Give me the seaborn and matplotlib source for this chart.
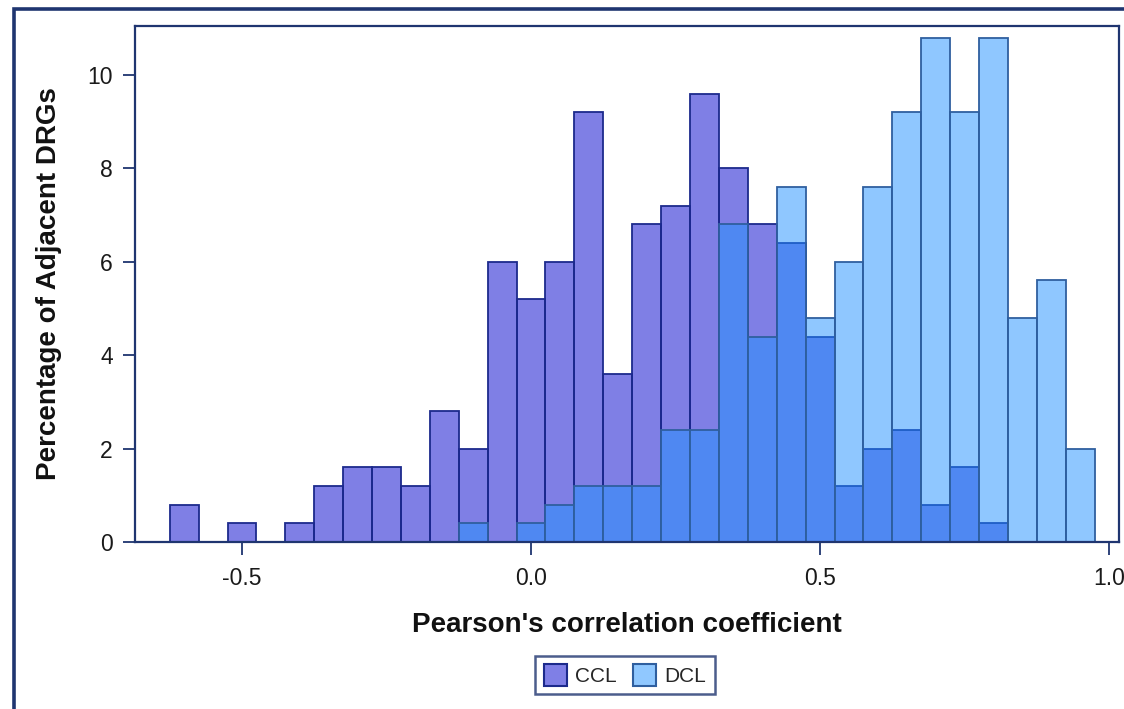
import numpy as np
import pandas as pd
import matplotlib
matplotlib.use("Agg")
import matplotlib.pyplot as plt
from matplotlib.patches import Patch, Rectangle
import seaborn as sns

# ---------------- data (percent of adjacent DRGs per 0.05 bin) ----------------
bin_centers = [-0.60, -0.55, -0.50, -0.45, -0.40, -0.35, -0.30, -0.25, -0.20,
               -0.15, -0.10, -0.05, 0.00, 0.05, 0.10, 0.15, 0.20, 0.25, 0.30,
               0.35, 0.40, 0.45, 0.50, 0.55, 0.60, 0.65, 0.70, 0.75, 0.80,
               0.85, 0.90, 0.95]
ccl_pct = [0.8, 0.0, 0.4, 0.0, 0.4, 1.2, 1.6, 1.6, 1.2,
           2.8, 2.0, 6.0, 5.2, 6.0, 9.2, 3.6, 6.8, 7.2, 9.6,
           8.0, 6.8, 6.4, 4.4, 1.2, 2.0, 2.4, 0.8, 1.6, 0.4,
           0.0, 0.0, 0.0]
dcl_pct = [0.0, 0.0, 0.0, 0.0, 0.0, 0.0, 0.0, 0.0, 0.0,
           0.0, 0.4, 0.0, 0.4, 0.8, 1.2, 1.2, 1.2, 2.4, 2.4,
           6.8, 4.4, 7.6, 4.8, 6.0, 7.6, 9.2, 10.8, 9.2, 10.8,
           4.8, 5.6, 2.0]
groups = ["CCL", "DCL"]
x_ticks = [-0.5, 0.0, 0.5, 1.0]
x_tick_labels = ["-0.5", "0.0", "0.5", "1.0"]
y_ticks = [0, 2, 4, 6, 8, 10]
x_label = "Pearson's correlation coefficient"
y_label = "Percentage of Adjacent DRGs"

# ---------------- styling ----------------
sns.set_style("white")
plt.rcParams["font.family"] = ["Liberation Sans", "DejaVu Sans"]

NAVY = "#1f3570"
fills = {"CCL": (0.0, 0.0, 205 / 255), "DCL": (33 / 255, 145 / 255, 1.0)}
edges = {"CCL": "#1c2a8c", "DCL": "#2f5f9f"}
legend_fill = {"CCL": "#7f7fe6", "DCL": "#90c8ff"}

df = pd.DataFrame({
    "center": bin_centers * 2,
    "pct": ccl_pct + dcl_pct,
    "group": ["CCL"] * len(bin_centers) + ["DCL"] * len(bin_centers),
})

fig = plt.figure(figsize=(11.24, 7.09), dpi=100)
ax = fig.add_axes([135 / 1124, 1 - 542 / 709, (1119 - 135) / 1124, (542 - 26) / 709])

bw = 0.05
brange = (min(bin_centers) - bw / 2, max(bin_centers) + bw / 2)
for g in groups:
    n_before = len(ax.patches)
    sns.histplot(data=df[df["group"] == g], x="center", weights="pct",
                 binwidth=bw, binrange=brange, stat="count",
                 color=fills[g], ax=ax, linewidth=1.3)
    for p in ax.patches[n_before:]:
        p.set_alpha(None)
        p.set_facecolor((*fills[g], 0.5))
        p.set_edgecolor(edges[g])
        p.set_linewidth(1.3)
        if p.get_height() == 0:
            p.set_visible(False)

ax.set_xlim(-0.685, 1.017)
ax.set_ylim(0, 11.05)
ax.set_xticks(x_ticks)
ax.set_xticklabels(x_tick_labels)
ax.set_yticks(y_ticks)
ax.tick_params(axis="both", direction="out", length=9, width=1.3, color=NAVY,
               labelsize=16.5, labelcolor="#1a1a1a", bottom=True, left=True)
ax.tick_params(axis="x", pad=9)
ax.tick_params(axis="y", pad=7)
for s in ax.spines.values():
    s.set_visible(True)
    s.set_color(NAVY)
    s.set_linewidth(1.6)
ax.set_xlabel(x_label, fontsize=20, fontweight="bold", labelpad=16, color="#111111")
ax.set_ylabel(y_label, fontsize=20, fontweight="bold", labelpad=18, color="#111111")
ax.grid(False)

handles = [Patch(facecolor=legend_fill[g], edgecolor=edges[g], linewidth=1.5, label=g)
           for g in groups]
leg = fig.legend(handles=handles, loc="center", bbox_to_anchor=(625 / 1124, 1 - 675 / 709),
                 ncol=2, frameon=True, fancybox=False, fontsize=15,
                 handlelength=1.1, handleheight=1.2, handletextpad=0.4,
                 columnspacing=0.8, borderpad=0.4)
leg.get_frame().set_edgecolor(NAVY)
leg.get_frame().set_linewidth(1.8)

# outer graph border
fig.patches.append(Rectangle((14 / 1124, -0.1), 1.2, 1.1 - 9 / 709, transform=fig.transFigure,
                             fill=False, edgecolor=NAVY, linewidth=2.6))

fig.savefig("out.png", dpi=100)
